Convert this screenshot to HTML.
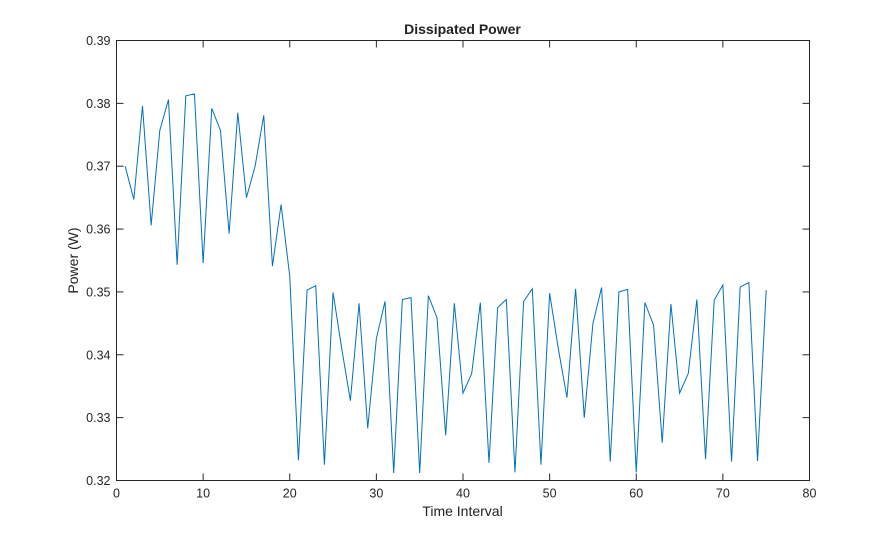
<!DOCTYPE html>
<html><head><meta charset="utf-8"><style>
body{margin:0;background:#fff;font-family:"Liberation Sans",sans-serif;}
svg text{font-family:"Liberation Sans",sans-serif;}
</style></head><body>
<svg id="chart" width="895" height="540" xmlns="http://www.w3.org/2000/svg">
<rect width="895" height="540" fill="#fff"/>
<text x="462.5" y="34" text-anchor="middle" font-size="14" font-weight="bold" fill="#222">Dissipated Power</text>
<text x="462.5" y="516" text-anchor="middle" font-size="14" fill="#222">Time Interval</text>
<text transform="translate(78,260.5) rotate(-90)" text-anchor="middle" font-size="14" fill="#222">Power (W)</text>
<g id="axes"></g>
<polyline id="series" fill="none" stroke="#0072BD" stroke-width="1"/>
</svg>
<script>
const xTicks=[0,10,20,30,40,50,60,70,80];
const yTicks=[0.32,0.33,0.34,0.35,0.36,0.37,0.38,0.39];
const power=[0.3700,0.3647,0.3796,0.3606,0.3757,0.3806,0.3543,0.3812,0.3815,0.3546,0.3792,0.3757,0.3593,0.3785,0.3650,0.3700,0.3781,0.3541,0.3639,0.3525,0.3232,0.3503,0.3510,0.3225,0.3499,0.3410,0.3327,0.3482,0.3283,0.3426,0.3485,0.3212,0.3488,0.3491,0.3212,0.3494,0.3459,0.3272,0.3482,0.3339,0.3370,0.3483,0.3228,0.3475,0.3488,0.3213,0.3485,0.3505,0.3225,0.3498,0.3410,0.3332,0.3505,0.3300,0.3450,0.3507,0.3230,0.3500,0.3504,0.3213,0.3483,0.3447,0.3260,0.3481,0.3339,0.3370,0.3488,0.3234,0.3487,0.3511,0.3230,0.3508,0.3515,0.3231,0.3503];
const L=116.5,R=809.5,T=40.5,B=480.5;
const xs=v=>L+(v-0)/(80-0)*(R-L);
const ys=v=>B-(v-0.32)/(0.39-0.32)*(B-T);
const NS="http://www.w3.org/2000/svg";
const g=document.getElementById('axes');
function mk(tag,attrs){const e=document.createElementNS(NS,tag);for(const k in attrs)e.setAttribute(k,attrs[k]);g.appendChild(e);return e;}
const box=mk('rect',{x:L,y:T,width:R-L,height:B-T,fill:'none',stroke:'#262626','stroke-width':1});


xTicks.forEach(t=>{const x=xs(t);
mk('line',{x1:x,x2:x,y1:B,y2:B-7,stroke:'#262626'});
mk('line',{x1:x,x2:x,y1:T,y2:T+7,stroke:'#262626'});
const tx=mk('text',{x:x,y:B+17,'text-anchor':'middle','font-size':12.5,fill:'#262626'});tx.textContent=t;

});
yTicks.forEach(t=>{const y=ys(t);
mk('line',{x1:L,x2:L+7,y1:y,y2:y,stroke:'#262626'});
mk('line',{x1:R,x2:R-7,y1:y,y2:y,stroke:'#262626'});
const tx=mk('text',{x:L-6,y:y+4.5,'text-anchor':'end','font-size':12.5,fill:'#262626'});tx.textContent=t.toFixed(2);

});
document.getElementById('series').setAttribute('points',power.map((v,i)=>xs(i+1)+','+ys(v)).join(' '));
</script>
</body></html>
